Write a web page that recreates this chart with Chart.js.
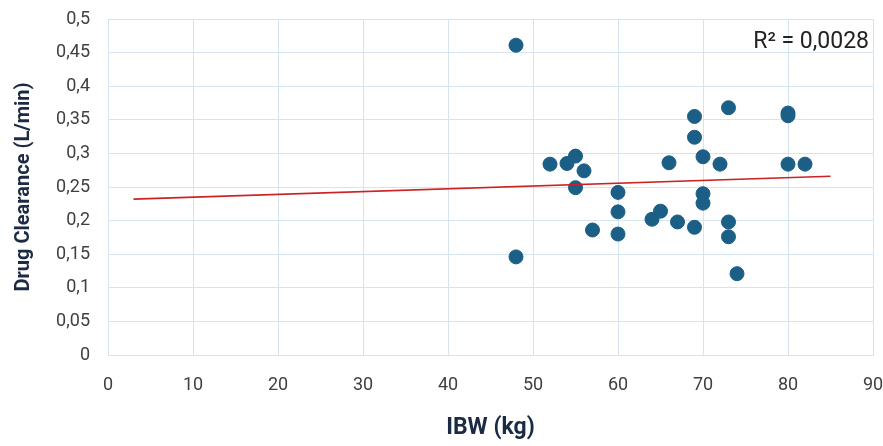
<!DOCTYPE html>
<html>
<head>
<meta charset="utf-8">
<script src="https://cdn.jsdelivr.net/npm/chart.js@4/dist/chart.umd.min.js"></script>
<style>
  html, body { margin: 0; padding: 0; background: #fff; }
  #wrap { width: 883px; height: 446px; }
</style>
</head>
<body>
<div id="wrap"><canvas id="chart"></canvas></div>
<script>
// IBW (kg) vs drug clearance (L/min)
const ibw = [48, 48, 52, 54, 55, 55, 56, 57, 60, 60, 60, 64, 65, 66, 67, 69, 69, 69, 70, 70, 70, 72, 73, 73, 73, 74, 80, 80, 80, 82];
const clearance = [0.461, 0.146, 0.284, 0.285, 0.296, 0.249, 0.274, 0.186, 0.242, 0.213, 0.180, 0.202, 0.214, 0.286, 0.198, 0.355, 0.324, 0.190, 0.295, 0.240, 0.226, 0.284, 0.368, 0.198, 0.176, 0.121, 0.360, 0.356, 0.284, 0.284];

// trendline ends
const trendX = [3, 85];
const trendY = [0.232, 0.266];
const r2Label = 'R² = 0,0028';

const FONT = '"Roboto", "Liberation Sans", sans-serif';
const gridColor = '#d6e3f0';
const tickColor = '#404040';
const titleColor = '#1c2b45';

const fmt = v => String(Math.round(v * 100) / 100).replace('.', ',');

const r2Plugin = {
  id: 'r2',
  afterDatasetsDraw(chart) {
    const { ctx, chartArea } = chart;
    ctx.save();
    ctx.font = '23px ' + FONT;
    ctx.fillStyle = '#222';
    ctx.textAlign = 'right';
    ctx.textBaseline = 'middle';
    ctx.fillText(r2Label, chartArea.right - 4, chartArea.top + 23);
    ctx.restore();
  }
};

new Chart(document.getElementById('chart'), {
  type: 'scatter',
  data: {
    datasets: [
      {
        label: 'Trend',
        type: 'line',
        data: trendX.map((x, i) => ({ x, y: trendY[i] })),
        borderColor: '#cc2222',
        borderWidth: 1.6,
        pointRadius: 0,
        fill: false
      },
      {
        label: 'Clearance',
        data: ibw.map((x, i) => ({ x, y: clearance[i] })),
        backgroundColor: '#1b5e86',
        borderColor: '#1b5e86',
        pointRadius: 7,
        pointHoverRadius: 7
      }
    ]
  },
  options: {
    responsive: true,
    maintainAspectRatio: false,
    animation: false,
    layout: { padding: { top: 19, right: 10, left: 0, bottom: 0 } },
    plugins: {
      legend: { display: false },
      tooltip: { enabled: false }
    },
    scales: {
      x: {
        type: 'linear',
        min: 0,
        max: 90,
        ticks: { stepSize: 10, color: tickColor, font: { family: FONT, size: 18 }, padding: 20 },
        grid: { color: gridColor, drawTicks: false },
        border: { color: gridColor },
        title: { display: true, text: 'IBW (kg)', color: titleColor, font: { family: FONT, size: 23, weight: 'bold' }, padding: { top: 10 } },
        afterFit: s => { s.height = 91; s.paddingLeft = 0; s.paddingRight = 0; }
      },
      y: {
        min: 0,
        max: 0.5,
        ticks: { stepSize: 0.05, color: tickColor, font: { family: FONT, size: 18 }, padding: 18, callback: fmt },
        grid: { color: gridColor, drawTicks: false },
        border: { color: gridColor },
        title: { display: true, text: 'Drug Clearance (L/min)', color: titleColor, font: { family: FONT, size: 20, weight: 'bold' }, padding: { top: 12, bottom: 6 } },
        afterFit: s => { s.width = 108; s.paddingTop = 0; s.paddingBottom = 0; }
      }
    }
  },
  plugins: [r2Plugin]
});
</script>
</body>
</html>
